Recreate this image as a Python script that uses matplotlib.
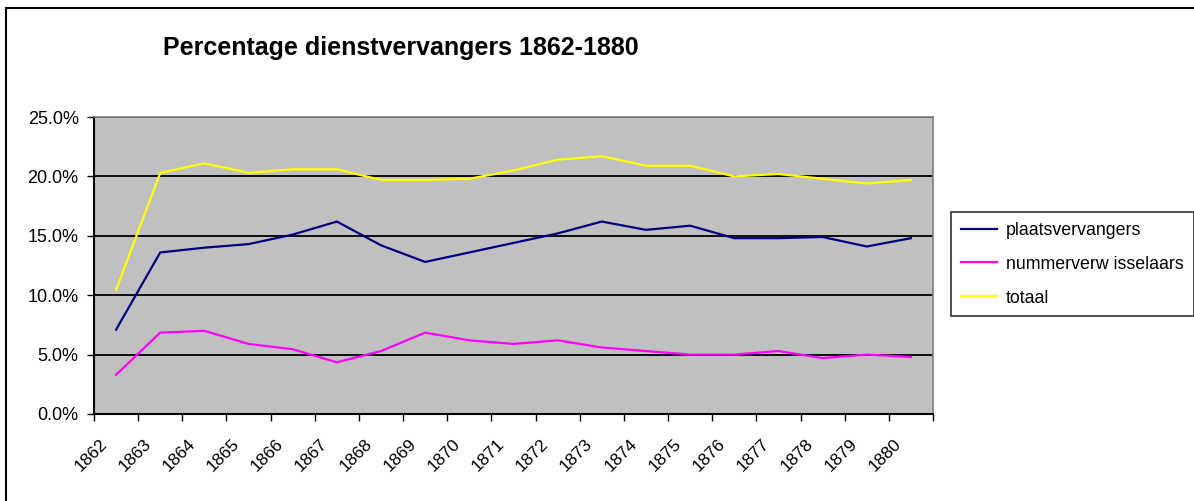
import matplotlib
matplotlib.use("Agg")
import matplotlib.pyplot as plt
from matplotlib.patches import Rectangle
from matplotlib.ticker import FuncFormatter, FixedLocator
from matplotlib.transforms import ScaledTranslation

plt.rcParams['font.family'] = ['Liberation Sans', 'DejaVu Sans']

years = [str(y) for y in range(1862, 1881)]
plaatsvervangers = [7.1, 13.6, 14.0, 14.3, 15.1, 16.2, 14.2, 12.8, 13.6, 14.4,
                    15.2, 16.2, 15.5, 15.85, 14.8, 14.8, 14.9, 14.1, 14.8]
nummerverwisselaars = [3.3, 6.85, 7.0, 5.9, 5.45, 4.35, 5.3, 6.85, 6.2, 5.9,
                       6.2, 5.6, 5.3, 5.0, 5.0, 5.3, 4.7, 5.0, 4.8]
totaal = [10.44, 20.3, 21.1, 20.3, 20.6, 20.6, 19.7, 19.7, 19.8, 20.5,
          21.4, 21.7, 20.9, 20.9, 20.0, 20.2, 19.8, 19.4, 19.7]
series_names = ['plaatsvervangers', 'nummerverw isselaars', 'totaal']
series_colors = ['#000080', '#FF00FF', '#FFFF00']
title = 'Percentage dienstvervangers 1862-1880'

W, H = 1194, 501
fig = plt.figure(figsize=(W / 100, H / 100), dpi=100)
fig.patch.set_facecolor('white')

# outer chart border (top & left visible)
fig.patches.append(Rectangle((6 / W, -0.1), 1.2, (H - 8) / H + 0.1, transform=fig.transFigure,
                             fill=False, edgecolor='black', linewidth=1.5))

l, r, t, b = 94, 933, 117, 414
ax = fig.add_axes([l / W, (H - b) / H, (r - l) / W, (b - t) / H])
ax.set_facecolor('#C0C0C0')

x = list(range(len(years)))
for vals, name, col in zip([plaatsvervangers, nummerverwisselaars, totaal], series_names, series_colors):
    ax.plot(x, vals, color=col, linewidth=1.6, label=name, zorder=3)

ax.set_xlim(-0.5, len(years) - 0.5)
ax.set_ylim(0, 25)
ax.yaxis.set_major_locator(FixedLocator([0, 5, 10, 15, 20, 25]))
ax.yaxis.set_major_formatter(FuncFormatter(lambda v, p: f'{v:.1f}%'))
ax.grid(axis='y', color='black', linewidth=1.3, zorder=1)
ax.set_axisbelow(True)

ax.set_xticks([i - 0.5 for i in range(len(years) + 1)])
ax.set_xticklabels([])
ax.set_xticks(x, minor=True)
ax.set_xticklabels(years, minor=True, rotation=45, ha='right', va='top',
                   rotation_mode='anchor', fontsize=12.5)
ax.tick_params(axis='x', which='minor', length=0, pad=9)
ax.tick_params(axis='x', which='major', length=5, width=1, color='black', direction='out')
ax.tick_params(axis='y', length=5, width=1, color='black', labelsize=13, pad=6)
offset = ScaledTranslation(-0.17, -0.10, fig.dpi_scale_trans)
for lab in ax.get_xticklabels(minor=True):
    lab.set_transform(lab.get_transform() + offset)

for s in ['left', 'bottom']:
    ax.spines[s].set_color('black')
    ax.spines[s].set_linewidth(1.5)
for s in ['top', 'right']:
    ax.spines[s].set_color('#808080')
    ax.spines[s].set_linewidth(1.2)

fig.text(401 / W, 1 - 48 / H, title, ha='center', va='center', fontsize=18, fontweight='bold')

leg = fig.legend(loc='upper left', bbox_to_anchor=(951 / W, 1 - 212 / H),
                 frameon=True, fancybox=False, edgecolor='black', fontsize=12.8,
                 handlelength=2.05, borderpad=0.55, labelspacing=0.95, handletextpad=0.5,
                 borderaxespad=0)
leg.get_frame().set_linewidth(1.2)

fig.savefig('out.png', dpi=100)
